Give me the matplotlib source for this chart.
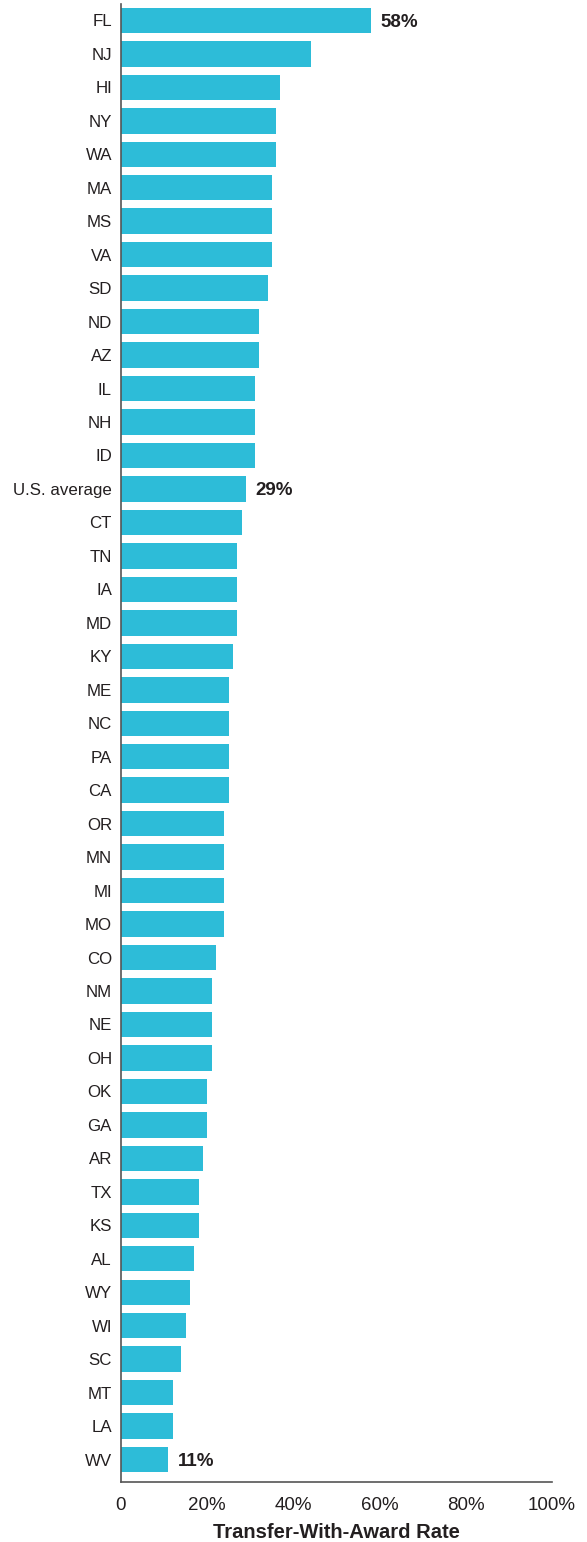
import matplotlib
matplotlib.use("Agg")
import matplotlib.pyplot as plt
from matplotlib.ticker import FixedLocator, FixedFormatter

plt.rcParams['font.family'] = ['Liberation Sans', 'DejaVu Sans']

states = ["FL", "NJ", "HI", "NY", "WA", "MA", "MS", "VA", "SD", "ND", "AZ", "IL", "NH", "ID",
          "U.S. average", "CT", "TN", "IA", "MD", "KY", "ME", "NC", "PA", "CA", "OR", "MN", "MI",
          "MO", "CO", "NM", "NE", "OH", "OK", "GA", "AR", "TX", "KS", "AL", "WY", "WI", "SC",
          "MT", "LA", "WV"]
rates = [58, 44, 37, 36, 36, 35, 35, 35, 34, 32, 32, 31, 31, 31,
         29, 28, 27, 27, 27, 26, 25, 25, 25, 25, 24, 24, 24,
         24, 22, 21, 21, 21, 20, 20, 19, 18, 18, 17, 16, 15, 14,
         12, 12, 11]
labeled = {"FL": "58%", "U.S. average": "29%", "WV": "11%"}
xticks = [0, 20, 40, 60, 80, 100]
xticklabels = ["0", "20%", "40%", "60%", "80%", "100%"]

color = "#2DBCD8"

fig = plt.figure(figsize=(5.87, 15.42), dpi=100)
ax = fig.add_axes([121/587, 1 - 1482/1542, (552 - 121)/587, (1482 - 4)/1542])

n = len(states)
ypos = list(range(n))
ax.barh(ypos, rates, height=0.76, color=color, zorder=2)
ax.set_ylim(n - 1 + 0.67, -0.49)
ax.set_xlim(0, 100)
ax.set_yticks(ypos)
ax.set_yticklabels(states, fontsize=12.2, color="#231f20")
ax.tick_params(axis='y', length=0, pad=6.5)
ax.xaxis.set_major_locator(FixedLocator(xticks))
ax.xaxis.set_major_formatter(FixedFormatter(xticklabels))
ax.tick_params(axis='x', length=0, pad=11, labelsize=13.5, labelcolor="#231f20")

for s, v in zip(states, rates):
    if s in labeled:
        ax.annotate(labeled[s], xy=(v, states.index(s)), xytext=(6.5, 0), textcoords='offset points',
                    ha='left', va='center_baseline', fontsize=13.5, fontweight='bold', color="#231f20")

for side in ['top', 'right']:
    ax.spines[side].set_visible(False)
for side in ['left', 'bottom']:
    ax.spines[side].set_color("#555555")
    ax.spines[side].set_linewidth(1.2)

ax.set_xlabel("Transfer-With-Award Rate", fontsize=14.5, fontweight='bold', color="#231f20", labelpad=6)

fig.savefig("out.png", dpi=100)
